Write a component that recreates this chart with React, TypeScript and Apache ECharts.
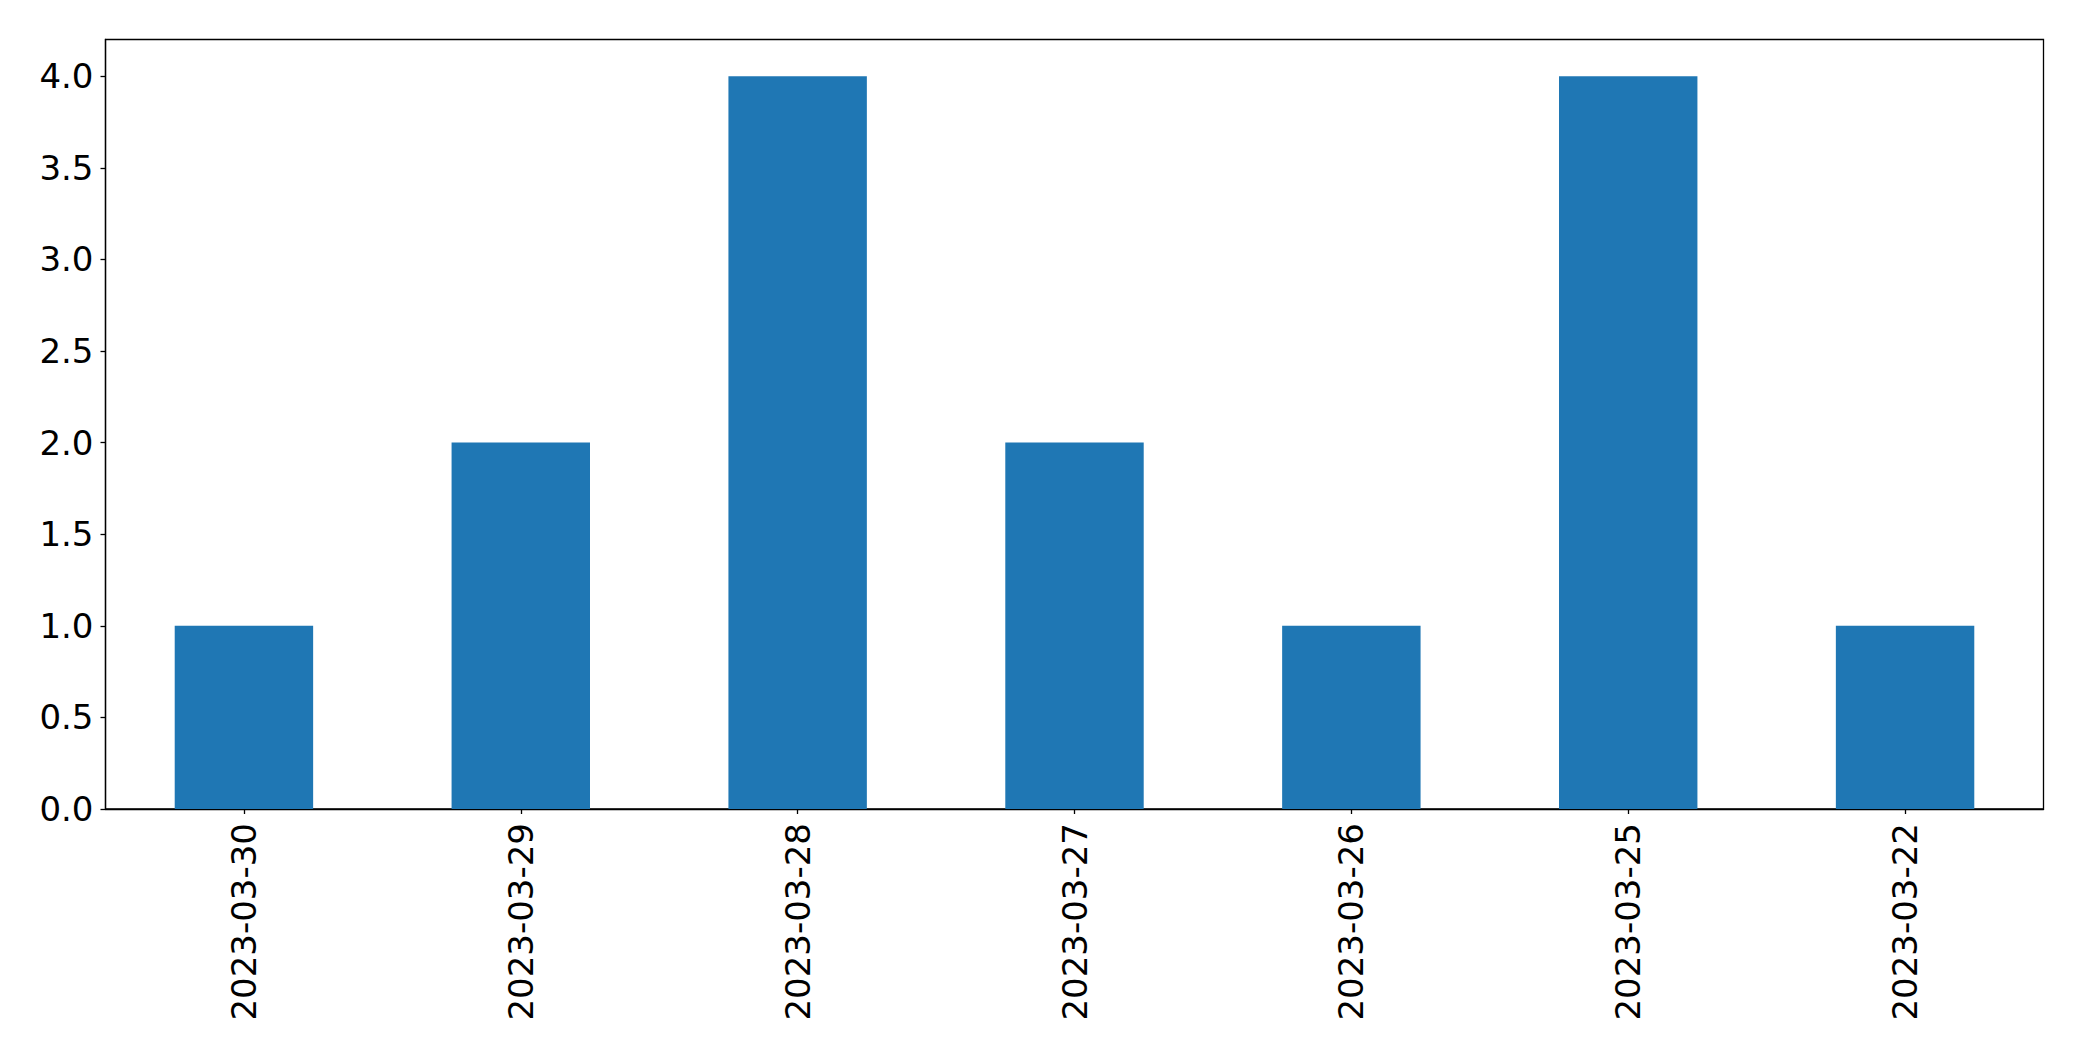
import React, { useEffect, useRef } from "react";
import * as echarts from "echarts";

const categories = ["2023-03-30", "2023-03-29", "2023-03-28", "2023-03-27", "2023-03-26", "2023-03-25", "2023-03-22"];
const values = [1, 2, 4, 2, 1, 4, 1];
const yTicks = [0, 0.5, 1, 1.5, 2, 2.5, 3, 3.5, 4];

export default function App() {
  const ref = useRef<HTMLDivElement>(null);
  useEffect(() => {
    if (!ref.current) return;
    const chart = echarts.init(ref.current, null, { renderer: "svg" });
    const font = "DejaVu Sans";
    chart.setOption({
      animation: false,
      backgroundColor: "#ffffff",
      grid: {
        left: 105.5,
        right: 38.5,
        top: 39.5,
        bottom: 252,
        show: true,
        borderColor: "#000000",
        borderWidth: 1.3,
        backgroundColor: "transparent",
      },
      xAxis: {
        type: "category",
        data: categories,
        axisLine: { show: true, lineStyle: { color: "#000", width: 1.3 } },
        axisTick: { show: true, alignWithLabel: true, length: 5, lineStyle: { color: "#000", width: 1.3 } },
        axisLabel: {
          rotate: 90,
          margin: 14,
          color: "#000",
          fontSize: 34,
          fontFamily: font,
          interval: 0,
        },
        splitLine: { show: false },
      },
      yAxis: {
        type: "value",
        min: 0,
        max: 4.2,
        interval: 0.5,
        axisLine: { show: true, lineStyle: { color: "#000", width: 1.3 } },
        axisTick: { show: true, length: 5, lineStyle: { color: "#000", width: 1.3 } },
        axisLabel: {
          margin: 12,
          color: "#000",
          fontSize: 34,
          fontFamily: font,
          formatter: (v: number) => (yTicks.includes(v) ? v.toFixed(1) : ""),
          showMaxLabel: false,
        },
        splitLine: { show: false },
      },
      series: [
        {
          type: "bar",
          data: values,
          barWidth: "50%",
          itemStyle: { color: "#1f77b4" },
        },
      ],
    });
    return () => chart.dispose();
  }, []);
  return (
    <div
      ref={ref}
      style={{ position: "fixed", left: 0, top: 0, width: "2082px", height: "1061px", background: "#fff" }}
    />
  );
}
